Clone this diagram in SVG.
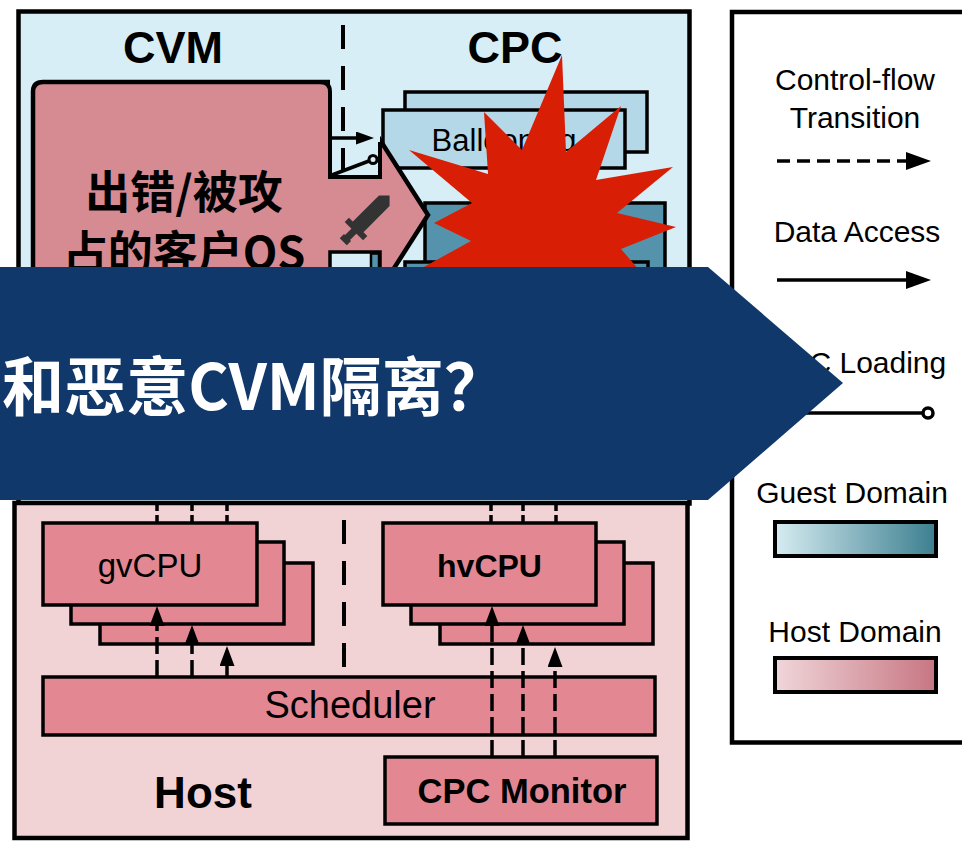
<svg xmlns="http://www.w3.org/2000/svg" width="962" height="841" viewBox="0 0 962 841">
  <defs>
    <style>
      .frame { stroke: #000; stroke-width: 4.5; }
      .box { stroke: #000; stroke-width: 3.5; }
      .guest-bg { fill: #d7eef6; }
      .balloon { fill: #b4d8e7; }
      .teal { fill: #5593ad; }
      .host-bg { fill: #f1d3d6; }
      .host-box { fill: #e38893; }
      .lbl { font-family: "Liberation Sans", Arial, sans-serif; fill: #000; }
      .cjk { font-family: "Noto Sans CJK SC", "Noto Sans", sans-serif; font-weight: bold; }
      .b { font-weight: bold; }
      .flow { stroke: #000; stroke-width: 3.5; fill: none; stroke-dasharray: 17 6; }
      .stub { stroke: #000; stroke-width: 3.5; fill: none; stroke-dasharray: 8 4; }
      .divider { stroke: #000; stroke-width: 4; fill: none; stroke-dasharray: 24 17; }
      .data { stroke: #000; stroke-width: 3.5; fill: none; }
    </style>
    <marker id="head-sm" viewBox="0 0 18 13" refX="3" refY="6.5" markerWidth="18" markerHeight="13" markerUnits="userSpaceOnUse" orient="auto">
      <path d="M0,0 L18,6.5 L0,13 Z" fill="#000"/>
    </marker>
    <marker id="head-md" viewBox="0 0 20 15" refX="3" refY="7.5" markerWidth="20" markerHeight="15" markerUnits="userSpaceOnUse" orient="auto">
      <path d="M0,0 L20,7.5 L0,15 Z" fill="#000"/>
    </marker>
    <marker id="head-lg" viewBox="0 0 25 18" refX="4" refY="9" markerWidth="25" markerHeight="18" markerUnits="userSpaceOnUse" orient="auto">
      <path d="M0,0 L25,9 L0,18 Z" fill="#000"/>
    </marker>
    <linearGradient id="grad-guest" x1="0" y1="0" x2="1" y2="0">
      <stop offset="0" stop-color="#d6ecf1"/>
      <stop offset="1" stop-color="#3c7f90"/>
    </linearGradient>
    <linearGradient id="grad-host" x1="0" y1="0" x2="1" y2="0">
      <stop offset="0" stop-color="#f0d6da"/>
      <stop offset="1" stop-color="#c77682"/>
    </linearGradient>
  </defs>

  <rect width="962" height="841" fill="#fff"/>

  <!-- Guest side: CVM and CPC -->
  <g id="guest-region">
    <rect class="guest-bg frame" x="18.5" y="11.5" width="671" height="492"/>
    <text class="lbl b" x="173" y="63" font-size="45" text-anchor="middle">CVM</text>
    <text class="lbl b" x="515" y="63" font-size="45" text-anchor="middle">CPC</text>
  </g>

  <g id="ballooning">
    <rect class="balloon box" x="405" y="92" width="242" height="60"/>
    <rect class="balloon box" x="383" y="110" width="242" height="58"/>
    <text class="lbl" x="504" y="151" font-size="31" text-anchor="middle">Ballooning</text>
  </g>

  <g id="cpc-core">
    <rect class="teal box" x="425" y="203" width="240" height="120"/>
    <rect class="teal box" x="405" y="262" width="243" height="80"/>
  </g>

  <!-- Compromised guest OS callout -->
  <g id="guest-os">
    <path d="M43,82 L343,82 L428,215 L343,348 L33,348 L33,92 Q33,82 43,82 Z" fill="#d68a92" stroke="#000" stroke-width="4.5" stroke-linejoin="miter"/>
    <text class="cjk" x="184" y="209" font-size="45" text-anchor="middle" fill="#000">出错/被攻</text>
    <text class="cjk" x="184" y="269" font-size="45" text-anchor="middle" fill="#000">占的客户OS</text>
    <g id="sword" transform="translate(356,229) rotate(-45)" fill="#333">
      <path d="M2,-7.5 L40,-7.5 L47.5,0 L40,7.5 L2,7.5 Z"/>
      <rect x="-3" y="-13" width="6" height="26"/>
      <rect x="-13" y="-3.5" width="11" height="7"/>
      <rect x="-18" y="-5" width="6" height="10"/>
    </g>
  </g>

  <!-- Interface strips between guest OS and CPC -->
  <g id="interface-upper">
    <rect class="guest-bg" x="330" y="78" width="50" height="99"/>
    <path d="M320,82 Q330,82 330,92 L330,177 L380,177 L380,142" fill="none" stroke="#000" stroke-width="4"/>
  </g>
  <g id="interface-lower">
    <rect class="guest-bg" x="330" y="252" width="50" height="40" stroke="#000" stroke-width="3.5"/>
    <rect class="teal" x="371" y="253.5" width="8" height="38" stroke="#000" stroke-width="2.5"/>
  </g>

  <!-- Explosion marking the compromised CPC -->
  <g id="explosion">
    <polygon fill="#d81f05" points="562,55 566,152 621,106 596,180 673,167 617,213 676,227 621,249 665,300 600,290 580,340 540,292 480,320 478,275 422,268 471,241 434,223 472,203 409,150 488,174 484,112 522,150"/>
  </g>

  <!-- Host side -->
  <g id="host-region">
    <rect class="host-bg frame" x="14.5" y="503" width="673" height="335"/>
    <text class="lbl b" x="203" y="808" font-size="44" text-anchor="middle">Host</text>
  </g>

  <g id="gvcpu">
    <rect class="host-box box" x="100" y="563" width="213" height="81"/>
    <rect class="host-box box" x="71" y="542" width="213" height="82"/>
    <rect class="host-box box" x="43" y="523" width="214" height="82"/>
    <text class="lbl" x="150" y="577" font-size="33" text-anchor="middle">gvCPU</text>
  </g>

  <g id="hvcpu">
    <rect class="host-box box" x="440" y="563" width="213" height="81"/>
    <rect class="host-box box" x="411" y="542" width="213" height="82"/>
    <rect class="host-box box" x="383" y="523" width="213" height="82"/>
    <text class="lbl b" x="489.5" y="577" font-size="32" text-anchor="middle">hvCPU</text>
  </g>

  <g id="scheduler">
    <rect class="host-box box" x="43" y="677" width="612" height="58"/>
    <text class="lbl" x="350" y="718" font-size="38" text-anchor="middle">Scheduler</text>
  </g>

  <g id="cpc-monitor">
    <rect class="host-box box" x="385" y="757" width="272" height="67"/>
    <text class="lbl b" x="522" y="803" font-size="34.5" text-anchor="middle">CPC Monitor</text>
  </g>

  <!-- Connectors -->
  <g id="connectors">
    <!-- CVM / CPC boundary -->
    <line class="divider" x1="343" y1="25" x2="343" y2="175"/>
    <line class="divider" x1="344" y1="520" x2="344" y2="670"/>
    <!-- data access and CPC loading between guest OS and CPC -->
    <line class="data" x1="331" y1="138" x2="359" y2="138" marker-end="url(#head-sm)"/>
    <line class="data" x1="332" y1="175" x2="369" y2="161"/>
    <circle cx="373" cy="159.5" r="4" fill="#d7eef6" stroke="#000" stroke-width="3"/>
    <!-- transitions entering the vCPUs from above -->
    <line class="stub" x1="157" y1="503" x2="157" y2="523"/>
    <line class="stub" x1="192" y1="503" x2="192" y2="523"/>
    <line class="stub" x1="227" y1="503" x2="227" y2="523"/>
    <line class="stub" x1="491" y1="503" x2="491" y2="523"/>
    <line class="stub" x1="523" y1="503" x2="523" y2="523"/>
    <line class="stub" x1="556" y1="503" x2="556" y2="523"/>
    <!-- scheduler dispatching gvCPUs -->
    <line class="flow" x1="157" y1="677" x2="157" y2="623" marker-end="url(#head-md)"/>
    <line class="flow" x1="192" y1="677" x2="192" y2="642" marker-end="url(#head-md)"/>
    <line class="flow" x1="227" y1="677" x2="227" y2="663" marker-end="url(#head-md)"/>
    <!-- CPC monitor dispatching hvCPUs -->
    <line class="flow" x1="492" y1="757" x2="492" y2="623" marker-end="url(#head-md)"/>
    <line class="flow" x1="523" y1="757" x2="523" y2="642" marker-end="url(#head-md)"/>
    <line class="flow" x1="555" y1="757" x2="555" y2="664" marker-end="url(#head-md)"/>
  </g>

  <!-- Legend -->
  <g id="legend">
    <rect x="732" y="12" width="240" height="730.5" fill="none" stroke="#000" stroke-width="4.5"/>
    <text class="lbl" x="855" y="90" font-size="30" text-anchor="middle">Control-flow</text>
    <text class="lbl" x="855" y="128" font-size="30" text-anchor="middle">Transition</text>
    <line x1="777" y1="161" x2="910" y2="161" stroke="#000" stroke-width="3.5" stroke-dasharray="13 7" marker-end="url(#head-lg)"/>
    <text class="lbl" x="857" y="242" font-size="30" text-anchor="middle">Data Access</text>
    <line x1="777" y1="280" x2="910" y2="280" stroke="#000" stroke-width="3.5" marker-end="url(#head-lg)"/>
    <text class="lbl" x="857" y="373" font-size="30" text-anchor="middle">CPC Loading</text>
    <line x1="777" y1="413" x2="923" y2="413" stroke="#000" stroke-width="3.5"/>
    <circle cx="928" cy="413" r="5" fill="#fff" stroke="#000" stroke-width="3.5"/>
    <text class="lbl" x="852" y="503" font-size="30" text-anchor="middle">Guest Domain</text>
    <rect x="775" y="522" width="161" height="34" fill="url(#grad-guest)" stroke="#000" stroke-width="4"/>
    <text class="lbl" x="855" y="642" font-size="30" text-anchor="middle">Host Domain</text>
    <rect x="775" y="658" width="161" height="34" fill="url(#grad-host)" stroke="#000" stroke-width="4"/>
  </g>

  <!-- Question banner, laid over the figure -->
  <g id="banner">
    <polygon points="0,267 708,267 843,383 708,500 0,500" fill="#10386a"/>
    <text class="cjk" x="2" y="410" font-size="64" fill="#fff" textLength="504" lengthAdjust="spacingAndGlyphs">和恶意CVM隔离？</text>
  </g>
</svg>
